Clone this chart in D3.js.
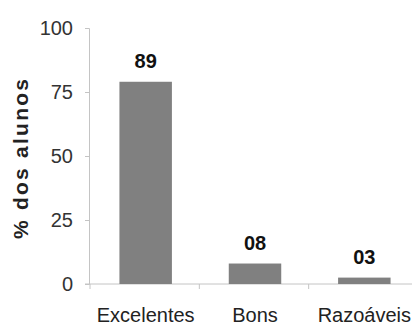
<!DOCTYPE html>
<html>
<head>
<meta charset="utf-8">
<script src="https://cdn.jsdelivr.net/npm/d3@7"></script>
<style>
  body { margin: 0; background: #fff; }
  svg { display: block; }
</style>
</head>
<body>
<div id="chart"></div>
<script>
// Data
const categories = ["Excelentes", "Bons", "Razoáveis"];
const barValues = [79, 8, 2.5];          // bar heights as drawn
const barLabels = ["89", "08", "03"];     // labels printed above bars
const yTicks = [0, 25, 50, 75, 100];

const width = 412, height = 325;
const plotLeft = 89, plotRight = 417, plotTop = 28, plotBottom = 284;

const svg = d3.select("#chart").append("svg")
    .attr("width", width)
    .attr("height", height);

const x = d3.scaleBand()
    .domain(categories)
    .range([plotLeft, plotRight])
    .paddingInner(0.52)
    .paddingOuter(0.26);

const y = d3.scaleLinear()
    .domain([0, 100])
    .range([plotBottom, plotTop]);

const axisColor = "#c4c4c4";

// Y axis
const yAxis = svg.append("g")
    .attr("transform", `translate(${plotLeft},0)`)
    .call(d3.axisLeft(y).tickValues(yTicks).tickSize(4).tickPadding(12));
yAxis.select(".domain").attr("stroke", axisColor);
yAxis.selectAll(".tick line").attr("stroke", axisColor);
yAxis.selectAll(".tick text")
    .attr("fill", "#333")
    .style("font", "20px 'Liberation Sans', Arial, sans-serif");

// X axis baseline with category separators
const step = x.step();
svg.append("line")
    .attr("x1", plotLeft - 4).attr("x2", width)
    .attr("y1", y(0)).attr("y2", y(0))
    .attr("stroke", axisColor);
svg.selectAll(".sep")
    .data(d3.range(categories.length))
    .join("line")
    .attr("x1", i => plotLeft + 1 + i * step)
    .attr("x2", i => plotLeft + 1 + i * step)
    .attr("y1", y(0))
    .attr("y2", y(0) + 5)
    .attr("stroke", axisColor);

// Category labels
svg.selectAll(".cat")
    .data(categories)
    .join("text")
    .attr("x", d => x(d) + x.bandwidth() / 2 + 2)
    .attr("y", 322)
    .attr("text-anchor", "middle")
    .attr("fill", "#222")
    .style("font", "20px 'Liberation Sans', Arial, sans-serif")
    .text(d => d);

// Bars
svg.selectAll(".bar")
    .data(barValues)
    .join("rect")
    .attr("x", (d, i) => x(categories[i]) + 2)
    .attr("y", d => y(d))
    .attr("width", x.bandwidth())
    .attr("height", d => y(0) - y(d))
    .attr("fill", "#808080");

// Value labels
svg.selectAll(".val")
    .data(barValues)
    .join("text")
    .attr("x", (d, i) => x(categories[i]) + x.bandwidth() / 2 + 2)
    .attr("y", d => y(d) - 14)
    .attr("text-anchor", "middle")
    .attr("fill", "#111")
    .style("font", "bold 20px 'Liberation Sans', Arial, sans-serif")
    .text((d, i) => barLabels[i]);

// Y axis title
svg.append("text")
    .attr("transform", "translate(28,159) rotate(-90)")
    .attr("text-anchor", "middle")
    .attr("fill", "#222")
    .attr("textLength", 160)
    .attr("lengthAdjust", "spacing")
    .style("font", "bold 21px 'Liberation Sans', Arial, sans-serif")
    .text("% dos alunos");
</script>
</body>
</html>
